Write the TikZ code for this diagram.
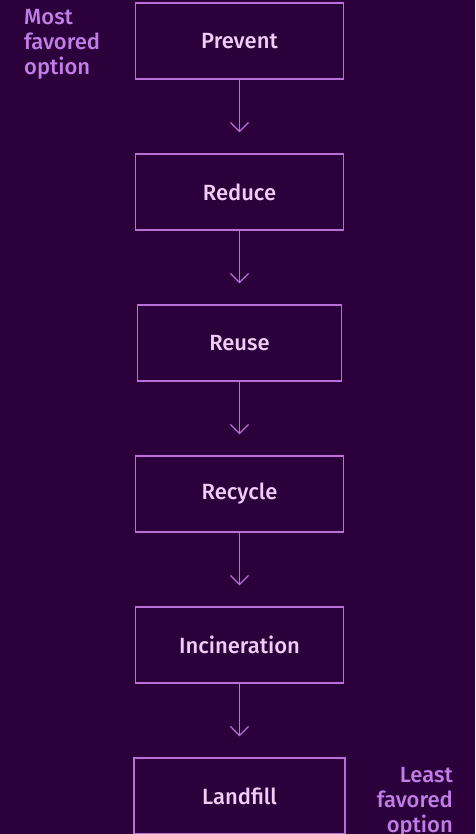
\documentclass[tikz,border=0pt]{standalone}
\usepackage{fontspec}
\setmainfont{Fira Sans Medium}
\usepackage{xcolor}
\usetikzlibrary{arrows.meta, positioning}
\definecolor{wastebg}{RGB}{43,0,59}
\definecolor{wasteline}{RGB}{184,111,216}
\definecolor{wastetext}{RGB}{240,205,245}
\definecolor{wasteside}{RGB}{193,126,230}

\begin{document}
\begin{tikzpicture}[x=1pt,y=-1pt,
    every node/.style={font=\fontsize{22}{25}\selectfont},
    stage/.style={draw=wasteline,line width=1.3pt,text=wastetext,
                  minimum width=208pt,minimum height=76pt},
    flow/.style={-{Straight Barb[length=9pt,width=18pt]},wasteline,line width=1.3pt},
    side/.style={text=wasteside,inner sep=0pt,font=\fontsize{22}{25}\selectfont}]
  \fill[wastebg] (0,0) rectangle (475,834);
  \useasboundingbox (0,0) rectangle (475,834);
  \node[stage] (prevent) at (239.5,41) {Prevent};
  \node[stage,below=73.7pt of prevent] (reduce) {Reduce};
  \node[stage,minimum width=204pt,below=73.7pt of reduce] (reuse) {Reuse};
  \node[stage,below=73.7pt of reuse] (recycle) {Recycle};
  \node[stage,below=73.7pt of recycle] (incineration) {Incineration};
  \node[stage,minimum width=211pt,below=73.7pt of incineration] (landfill) {Landfill};
  \draw[flow] (prevent) -- ([yshift=21pt]reduce.north);
  \draw[flow] (reduce) -- ([yshift=21pt]reuse.north);
  \draw[flow] (reuse) -- ([yshift=21pt]recycle.north);
  \draw[flow] (recycle) -- ([yshift=21pt]incineration.north);
  \draw[flow] (incineration) -- ([yshift=21pt]landfill.north);
  % preference labels
  \node[side,align=left,anchor=north west] (most) at (24,9.5) {Most\\favored\\option};
  \node[side,align=right,anchor=north east] (least) at (453,767) {Least\\favored\\option};
\end{tikzpicture}
\end{document}
